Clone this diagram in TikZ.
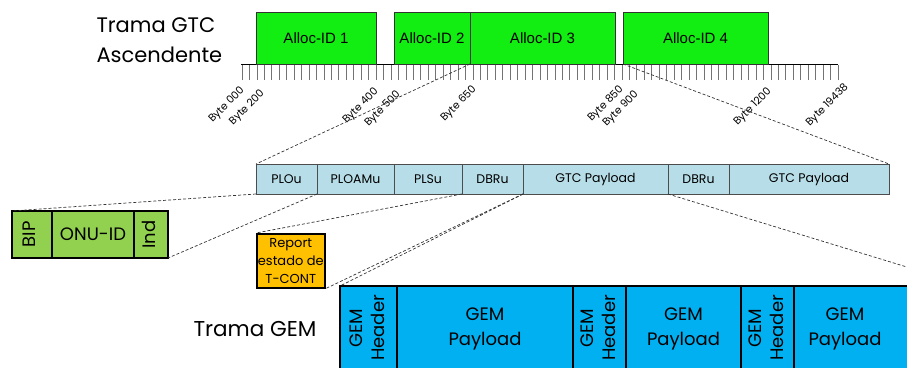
\documentclass[tikz,border=0pt]{standalone}
\usepackage{fontspec}
\setmainfont{Poppins}
\newfontfamily\arialfont{Liberation Sans}
\usetikzlibrary{positioning}

\definecolor{allocgreen}{RGB}{18,238,18}
\definecolor{fieldblue}{RGB}{183,222,232}
\definecolor{onugreen}{RGB}{146,208,80}
\definecolor{reportorange}{RGB}{255,192,0}
\definecolor{gemblue}{RGB}{0,176,240}

\newcommand{\vtext}[1]{\rotatebox{90}{\begin{tabular}{@{}c@{}}#1\end{tabular}}}
\newcommand{\gempay}{\begin{tabular}{@{}c@{}}GEM\\Payload\end{tabular}}

\begin{document}
\begin{tikzpicture}[
    x=1pt, y=-1pt,
    node distance = 0pt,
    alloc/.style = {draw=black!80, line width=0.9pt, fill=allocgreen,
                    minimum height=52pt, inner sep=0pt, outer sep=0pt,
                    font=\arialfont\fontsize{15}{18}\selectfont},
    field/.style = {draw=black!70, line width=1pt, fill=fieldblue,
                    minimum height=30pt, inner sep=0pt, outer sep=0pt,
                    font=\fontsize{12.5}{14}\selectfont},
    onu/.style = {draw, line width=1.6pt, fill=onugreen,
                  minimum height=47pt, inner sep=0pt, outer sep=0pt,
                  font=\fontsize{18}{20}\selectfont},
    report/.style = {draw, line width=1.6pt, fill=reportorange, align=center,
                     minimum width=68pt, minimum height=54pt, inner sep=0pt,
                     font=\fontsize{13}{18}\selectfont},
    gem/.style = {draw, line width=1.5pt, fill=gemblue,
                  minimum height=84pt, inner sep=0pt, outer sep=0pt,
                  font=\fontsize{18}{25}\selectfont},
    zoomline/.style = {dash pattern=on 3pt off 2pt, line width=0.7pt, black!80},
    bytelabel/.style = {rotate=45, anchor=east, inner sep=0pt,
                        font=\fontsize{10.5}{11}\selectfont},
    title/.style = {align=left, font=\fontsize{21}{30}\selectfont}
]
\useasboundingbox (0,0) rectangle (907,367);
\clip (0,0) rectangle (907,367);

% trama GTC ascendente
\node[title, anchor=north west] (gtctitle) at (93,14) {Trama GTC\\Ascendente};

\foreach \i in {0,...,80}
  \draw[black!55, line width=0.8pt] ({242+\i*7.45},65) -- ++(0,15);
\draw[line width=1.8pt] (241,64.5) -- (838,64.5);

\node[alloc, anchor=south west, minimum width=120pt] (alloc1) at (256,64) {Alloc-ID 1};
\node[alloc, anchor=south west, minimum width=76pt] (alloc2) at (394,64) {Alloc-ID 2};
\node[alloc, right=of alloc2, minimum width=145pt] (alloc3) {Alloc-ID 3};
\node[alloc, anchor=south west, minimum width=145pt] (alloc4) at (623,64) {Alloc-ID 4};

\foreach \x/\y/\txt in {243/89/000, 263/92/200, 377/90/400, 399/93/500,
                        475/88/650, 622/88/850, 637/93/900, 770/90/1200,
                        847/86/19438}
  \node[bytelabel] at (\x,\y) {Byte \txt};

% campos de la rafaga
\node[field, anchor=north west, minimum width=61pt] (plo) at (256,164) {PLOu};
\node[field, right=of plo, minimum width=77pt] (ploam) {PLOAMu};
\node[field, right=of ploam, minimum width=68pt] (pls) {PLSu};
\node[field, right=of pls, minimum width=61pt] (dbr1) {DBRu};
\node[field, right=of dbr1, minimum width=145pt] (gtcpay1) {GTC Payload};
\node[field, right=of gtcpay1, minimum width=61pt] (dbr2) {DBRu};
\node[field, right=of dbr2, minimum width=160pt] (gtcpay2) {GTC Payload};

% PLOu
\node[onu, anchor=north west, minimum width=40pt] (bip) at (12,211) {\vtext{BIP}};
\node[onu, right=of bip, minimum width=82pt] (onuid) {ONU-ID};
\node[onu, right=of onuid, minimum width=34pt] (ind) {\vtext{Ind}};

% DBRu
\node[report, anchor=north west] (report) at (256,233) {Report\\estado de\\T-CONT};

% trama GEM
\node[anchor=west, font=\fontsize{21.5}{24}\selectfont] (gemtitle) at (190,329) {Trama GEM};
\node[gem, anchor=north west, minimum width=57pt] (hdr1) at (340,286) {\vtext{GEM\\[-3pt]Header}};
\node[gem, right=of hdr1, minimum width=176pt] (pay1) {\gempay};
\node[gem, right=of pay1, minimum width=53pt] (hdr2) {\vtext{GEM\\[-3pt]Header}};
\node[gem, right=of hdr2, minimum width=115pt] (pay2) {\gempay};
\node[gem, right=of pay2, minimum width=53pt] (hdr3) {\vtext{GEM\\[-3pt]Header}};
\node[gem, right=of hdr3, minimum width=175pt] (pay3) {\gempay\hspace*{73pt}};

% lineas de zoom
\draw[zoomline] (alloc3.south west) -- (plo.north west);
\draw[zoomline] (alloc4.south west) -- (gtcpay2.north east);
\draw[zoomline] (plo.south west) -- (bip.north west);
\draw[zoomline] (plo.south east) -- (ind.south east);
\draw[zoomline] (dbr1.south west) -- (report.north west);
\draw[zoomline] (dbr1.south east) -- (report.south east);
\draw[zoomline] (dbr1.south east) -- (hdr1.north west);
\draw[zoomline] (gtcpay1.south east) -- (pay3.north east);

\end{tikzpicture}
\end{document}
